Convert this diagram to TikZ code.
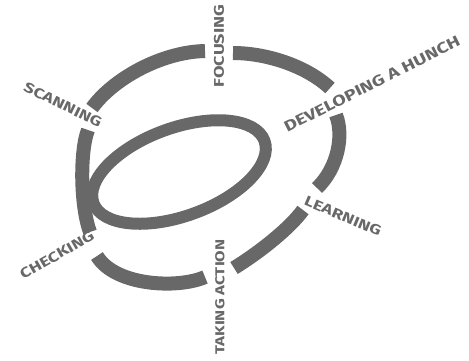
\documentclass[tikz,border=0pt]{standalone}
\usepackage{fontspec}
\newfontfamily\sketchfont{Fira Sans}[FakeStretch=1.3]
\usepackage{tikz}
\definecolor{inkgray}{RGB}{104,104,104}

\begin{document}
\begin{tikzpicture}[x=1pt, y=-1pt]
% --- Global Styles ---
\tikzstyle{ring} = [line width=14pt, draw=inkgray]
\tikzstyle{loop} = [line width=12pt, draw=inkgray]
\tikzstyle{stage} = [text=inkgray, inner sep=0pt, font=\sketchfont\bfseries\fontsize{14}{14}\selectfont]

\useasboundingbox (0,0) rectangle (469,360);

% ==========================================
% Stage labels
% ==========================================
\node[stage, rotate=90]              (focusing) at (219,46)  {FOCUSING};
\node[stage, rotate=26.7, scale=1.08] (hunch)    at (372,84)  {DEVELOPING A HUNCH};
\node[stage, rotate=-23]             (learning) at (343,216) {LEARNING};
\node[stage, rotate=90, scale=0.92]  (action)   at (220,297) {TAKING ACTION};
\node[stage, rotate=30]              (checking) at (57,255)  {CHECKING};
\node[stage, rotate=-26]             (scanning) at (63,105)  {SCANNING};

% ==========================================
% Outer ring, one piece between each pair of stages
% ==========================================
% scanning to focusing
\draw[ring] (92,108) .. controls (112,80) and (160,52) .. (205,51);
% focusing to developing a hunch
\draw[ring] (233,53) .. controls (265,53) and (305,65) .. (330,88);
% developing a hunch to learning
\draw[ring] (336,115) .. controls (344,135) and (338,168) .. (317,188);
% learning to taking action
\draw[ring] (303,210) .. controls (290,228) and (260,252) .. (234,268);
% taking action to checking
\draw[ring] (205,277) .. controls (178,289) and (115,286) .. (97,256);
% checking to scanning
\draw[ring] (88,130) .. controls (80,150) and (80,205) .. (90,232);

% ==========================================
% Inner loop
% ==========================================
\draw[loop, rotate around={20:(179,172)}] (179,172) ellipse [x radius=91, y radius=44];

\end{tikzpicture}
\end{document}
